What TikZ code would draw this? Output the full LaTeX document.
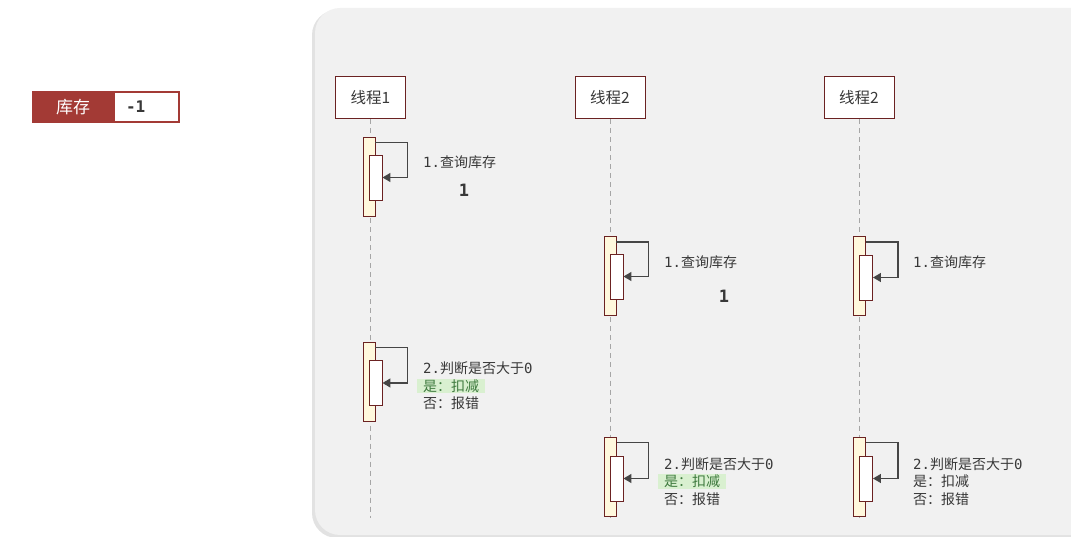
\documentclass[tikz,border=0pt]{standalone}
\usepackage{fontspec}
\setmainfont{Noto Sans CJK SC}
\setmonofont{DejaVu Sans Mono}
\usetikzlibrary{arrows.meta}
\definecolor{panelgray}{HTML}{F1F1F1}
\definecolor{shadowgray}{HTML}{E2E2E2}
\definecolor{boxred}{HTML}{6B2222}
\definecolor{stockred}{HTML}{A33A35}
\definecolor{barcream}{HTML}{FFF8DD}
\definecolor{arrowgray}{HTML}{464646}
\definecolor{textgray}{HTML}{383838}
\definecolor{hlgreen}{HTML}{D9F0D0}
\definecolor{okgreen}{HTML}{3E7A3E}

\tikzset{
  thread/.style={draw=boxred, line width=1pt, fill=white, minimum width=70pt,
    minimum height=42pt, font=\fontsize{15.5}{18}\selectfont, text=textgray},
  lifeline/.style={draw=gray!70, line width=0.8pt, dash pattern=on 5pt off 4pt},
  outerbar/.style={draw=boxred, line width=0.9pt, fill=barcream, minimum width=12pt,
    minimum height=79pt, inner sep=0pt},
  innerbar/.style={draw=boxred, line width=0.9pt, fill=white, minimum width=13pt,
    minimum height=45pt, inner sep=0pt},
  selfmsg/.style={draw=arrowgray, line width=1.3pt, -{Triangle[width=9pt,length=8pt]}},
  note/.style={anchor=west, inner sep=0pt, font=\fontsize{14}{17}\selectfont, text=textgray},
  okline/.style={note, text=okgreen, fill=hlgreen, inner xsep=6pt, inner ysep=1pt, xshift=-6pt},
  count/.style={font=\fontsize{17}{19}\selectfont\ttfamily\bfseries, text=textgray}
}

\begin{document}
\begin{tikzpicture}[x=1pt, y=-1pt]
\useasboundingbox (0,0) rectangle (1071,537);
\clip (0,0) rectangle (1071,537);

% panel
\fill[shadowgray, rounded corners=25pt] (312,10) rectangle (1100,538);
\fill[panelgray, rounded corners=25pt] (315,8) rectangle (1100,535);

% stock
\node[fill=stockred, minimum width=82pt, minimum height=32pt, inner sep=0pt,
  text=white, font=\fontsize{17}{20}\selectfont] (stock) at (73,107) {库存};
\node[draw=stockred, line width=2pt, fill=white, minimum height=30pt, inner xsep=12pt,
  text width=41pt, align=left, anchor=west, font=\fontsize{16}{18}\selectfont\ttfamily\bfseries,
  text=textgray] (val) at (113,107) {-1};

% threads and lifelines
\foreach \n/\x/\t in {t1/370.5/线程1, t2/610/线程2, t3/859/线程2} {
  \node[thread] (\n) at (\x,98) {\t};
  \coordinate (\n end) at (\x,518);
  \draw[lifeline] (\n) -- (\n end);
}

% thread 1
\node[outerbar] (a1) at (369,176.5) {};
\node[innerbar] (b1) at (375.5,177.5) {};
\draw[selfmsg] ([yshift=-6pt]a1.north east) -| ([xshift=25pt]b1.east) -- (b1.east);
\node[note] (q1) at (423,162) {\texttt{1.}查询库存};
\node[count] (c1) at (464,190) {1};

\node[outerbar] (a2) at (369,381.5) {};
\node[innerbar] (b2) at (375.5,383) {};
\draw[selfmsg] ([yshift=-6pt]a2.north east) -| ([xshift=25pt]b2.east) -- (b2.east);
\node[note] (j1) at (423,368) {\texttt{2.}判断是否大于\texttt{0}};
\node[okline] (y1) at (423,386) {是：扣减};
\node[note] (n1) at (423,403) {否：报错};

% thread 2
\node[outerbar] (a3) at (610,276) {};
\node[innerbar] (b3) at (616.5,276.5) {};
\draw[selfmsg] ([yshift=-6pt]a3.north east) -| ([xshift=25pt]b3.east) -- (b3.east);
\node[note] (q2) at (664,262) {\texttt{1.}查询库存};
\node[count] (c2) at (724,296) {1};

\node[outerbar] (a4) at (610.5,476.5) {};
\node[innerbar] (b4) at (616.5,478.5) {};
\draw[selfmsg] ([yshift=-6pt]a4.north east) -| ([xshift=25pt]b4.east) -- (b4.east);
\node[note] (j2) at (664,464) {\texttt{2.}判断是否大于\texttt{0}};
\node[okline] (y2) at (664,481.5) {是：扣减};
\node[note] (n2) at (664,499) {否：报错};

% thread 3
\node[outerbar] (a5) at (859.5,276) {};
\node[innerbar] (b5) at (866,277.5) {};
\draw[selfmsg] ([yshift=-6pt]a5.north east) -| ([xshift=25pt]b5.east) -- (b5.east);
\node[note] (q3) at (913,262) {\texttt{1.}查询库存};

\node[outerbar] (a6) at (859.5,476.5) {};
\node[innerbar] (b6) at (866,478.5) {};
\draw[selfmsg] ([yshift=-6pt]a6.north east) -| ([xshift=25pt]b6.east) -- (b6.east);
\node[note] (j3) at (913,464) {\texttt{2.}判断是否大于\texttt{0}};
\node[note] (y3) at (913,481.5) {是：扣减};
\node[note] (n3) at (913,499) {否：报错};
\end{tikzpicture}
\end{document}
